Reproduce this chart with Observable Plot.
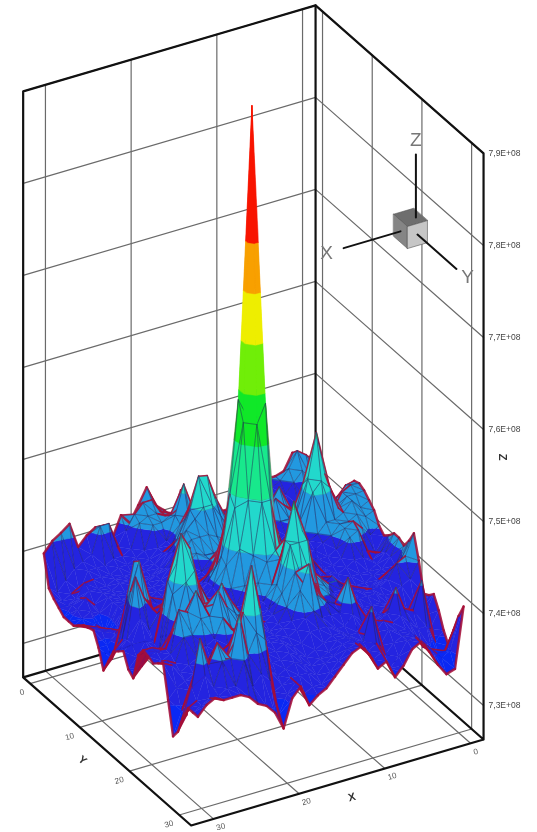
<!DOCTYPE html>
<html><head><meta charset="utf-8">
<style>html,body{margin:0;padding:0;background:#fff}svg{display:block;filter:blur(.55px)}</style>
<script src="https://cdn.jsdelivr.net/npm/d3@7"></script>
<script src="https://cdn.jsdelivr.net/npm/@observablehq/plot@0.6"></script>
</head><body><div id="chart"></div>
<script>
// Surface heights, in units of 1E+06, one array per X index (0..31); entries run over Y index 0..31
const zX00=[742,742,741,741,740,739,739.6,740.9,742.7,743.7,743.9,743.6,743,742.4,741.2,740.6,741.1,741.8,741.8,741.4,742.4,743.7,741.2,738.1,738.4,739,737.7,736,734.8,737,739,740.5];
const zX01=[742,743,741,739,738,738,738.5,739.5,742,743.5,744,743.5,742.5,742,740.5,739,739.5,740,740,739.5,740.5,741.5,739.5,737,737,737,736,735,733.5,735,735.5,734];
const zX02=[743,743.7,742,739,738,738,738,739,740.5,742.5,743.5,743.5,743.5,742.5,741.5,739.5,739,739,739,739,740,741,739,737,737,738,741.5,737,735,735,735,733.7];
const zX03=[741.3,742,741,739,738,738,738.5,739,739.5,740,742,742.5,742.5,742,742.5,742,739.5,738.5,738.5,738.5,739,739.5,738.5,737.5,737.5,738,738.5,737,735.5,736,736,735];
const zX04=[741,741,740,739,738.5,739,739.5,740,741,745,746,745,742,742,742,741.5,739.5,738.5,738,738,738.5,739,738.5,738,738,738.5,739,738,737,737,737,736.7];
const zX05=[741,740.5,739.5,739,738.5,739,740,741,742,746,750.8,746,742,741,740,739.5,739,738.5,738,738,738.5,739,739,738.5,738.5,739,741.5,739,738,738,738,738];
const zX06=[740,739.5,739,739,739,740,741,741,741.5,745,746,745,741,740.5,739.5,739,738.5,738,738,738.5,739,739,739,738.5,738,738.5,739,738.5,738,738,738,737.5];
const zX07=[739.5,739,739,739.5,740,742,743.5,742,741,741.5,741.5,741,740.5,740,739.5,739,739,738.5,738.5,739,739.5,739.5,739,738.5,738,738,738.5,739,738.5,737.5,736.5,736];
const zX08=[739,739,739,739.5,740.5,741,742,743,741,740,740,740,739.5,739.5,739.5,739.5,739.5,739.5,739,739.5,740,740,739.5,739,738.5,738.5,738.5,738,737,736.5,735.5,735];
const zX09=[739,739,739,739.5,740,740.5,741,741,740.5,739.5,739.5,739.5,739.5,739.5,740,740.5,741,740.5,740,740.5,741,741,740.5,740,740,740.5,739,738,741.5,738,737.5,737];
const zX10=[738.9,739,739,739,739.5,740,740.5,740.5,740,739.5,739.5,739.5,739.5,740,740,740.5,740.5,740,740,740.5,740.5,741,740.5,740,740,743.5,740,738.5,738,737.5,737,736.5];
const zX11=[738.7,739,739,739,739.5,740,740.5,740.5,740,739.5,739.5,739.5,740,740,740.5,741,741.5,741,740.5,741,741.5,742,741.5,741,740.5,740,739,738.5,738.5,738.5,738.5,738.3];
const zX12=[739.5,739.5,739.5,739.5,739.5,740,740.5,740.5,740,739.5,739.5,740,740,740.5,741,742,742,741.5,741,741.5,742.5,743,742,741,741,740,739,739,739,739.2,739.3,739.4];
const zX13=[740.8,740,740,739.5,739.5,740,741,741.5,741,740,739.5,740,740.5,742,744,746,745,743,741.5,743,747,747.5,747,743,742,740,739.5,739,739,739,739,739];
const zX14=[740.6,740,740,740,740.5,741,742,743,742,741,740.5,740.5,741,744,748,748,748.5,744,741.5,743,747,751,747,743,745.6,741,739.5,738.5,738,738,738,738];
const zX15=[742.5,742,741,741,741.5,742.5,744,745,743.5,741.5,740.5,741,742,743,746,750,758,760,750,745,744.5,747,747,744.5,743,740.5,739.5,738,737.5,737.5,737,737];
const zX16=[739.7,740,740.5,741,741,742,745,747.7,745,742,741,741.5,743,745,750,758,792.2,758,750,744,742,742.5,742,741,740,739.5,738.5,737.5,737,736.5,736,736];
const zX17=[740.9,741,741.5,742.5,745.6,742.5,745,747.9,745,742.5,741,741.5,743,745,750,760,758,750,744.5,742,740.5,740,740,739.5,739.5,739,738.5,738,737.5,737,736,735.5];
const zX18=[741.7,741.5,741.5,742,742.5,742,743,744.5,744,742.5,741,741,741,743,746,750,749,745,741.5,740,739.5,739.5,739.5,739,739,739,739,738.5,738,737,735.5,734.7];
const zX19=[743.9,743,742,741.5,740,740,741,742,743,742.5,741.5,740,740,741,742,743.5,743,741,739.5,739,739,739.5,740,739.5,739,739,738.5,738,737.5,737,737,737];
const zX20=[742.2,743,742,741.5,739.5,739.5,740,740.5,741,741,740.5,739.5,739.5,740,740.5,740.5,740,739,738.5,738.5,739,740,740.5,740,739.5,739,738.5,738,737,736.5,736,736];
const zX21=[740.6,742,741.5,739,738.5,738.5,738.5,739,739.5,739.5,739,738.5,738.5,739,739.5,739.5,739,738.5,739,739.5,740,741,741.5,741,740.5,740,739.5,739,738,736,734,733];
const zX22=[741.7,740.5,739,738.5,738,738,738,738.5,738.5,738.5,738.5,738,738,738.5,738.5,738.5,738.5,739,740,741,741,742.5,743,742,741,741,742,743,745,742,738,735];
const zX23=[739.5,739,738.5,738,737.5,737.5,737.5,738,738,738,738,737.5,738,738.5,739,739,739,739.5,741,742,741.5,743,745,743,741,741,743,745,749.8,743,739,736];
const zX24=[741.1,741.8,738.5,738,737.5,737.5,737.5,737.5,737.5,737.5,738,738,738.5,739,739.5,739.5,740,741,743,744,742,741.5,743,745,742.5,740,741,743,745,741,738,736.5];
const zX25=[741.2,741.8,738,737.5,737.5,737.5,737,737,737,737.5,738,738.5,739,739.5,740,740,741,743,746,748,746,743,743,742.5,740.5,739.5,739,739.5,742,745.5,741,737.5];
const zX26=[740.6,739,738,737.5,737,737,737,737,737,737.5,738,738.5,739,740,740,740,741,743,746,749.8,745,742.5,745,742.5,740,739,738.5,739,740.5,741,738.5,738];
const zX27=[739.6,738.5,738,737.5,737,737,737,737,737,737,737.5,738,739.5,741,740.5,740,740,741,744.5,743.5,741.5,742,743,741,739,738.5,739,741,742.5,741,738.5,738];
const zX28=[742.4,738,736,737.4,737,736,735.5,734,734.5,735,735.5,736,738,744.5,745,741.5,738.5,737.5,737,738,738.5,741,743.5,741,738.5,738,738,738.5,740.5,738.5,738,738];
const zX29=[741.7,737,736,736,736.5,737,736,735,735,735.5,736,736,737,740,742,744,740,738,737.5,738,738.5,739,739,738.5,738,737.5,737,739.5,743.5,740,738,738.5];
const zX30=[741.1,736,735.5,735.5,736,736,735.5,735,735.5,736,736,735,734,735.5,737,737.5,737.5,736.5,736,738,739,739,738.5,739,739,737,735,735,738.5,737.5,737.5,738];
const zX31=[740,736.7,736,735.5,735,735,735,735.5,736,736.2,736.4,735,733,734.5,736,736.5,737,735.5,735,738,739,738.8,738.5,739,739.5,736,732.5,733.5,735.5,737,737,737];
const surface=[zX00,zX01,zX02,zX03,zX04,zX05,zX06,zX07,zX08,zX09,zX10,zX11,zX12,zX13,zX14,zX15,zX16,zX17,zX18,zX19,zX20,zX21,zX22,zX23,zX24,zX25,zX26,zX27,zX28,zX29,zX30,zX31];

// Contour levels and the band colours between them (one more colour than levels)
const levels=[735.5,741,744.7,750.2,755.7,761.1,766.5,772,777.4];
const bandColors=["#0a28f4","#2424e0","#2299e0","#22d8cc","#18e88c","#10e828","#70ee08","#eeee00","#f8a000","#f81400"];

// Axis values
const xTicks=[0,10,20,30], yTicks=[0,10,20,30];
const zTicks=[730,740,750,760,770,780,790];
const zLabels=["7,3E+08","7,4E+08","7,5E+08","7,6E+08","7,7E+08","7,8E+08","7,9E+08"];
const box={x0:-1.52,x1:32.6,y0:-1.4,y1:32.4,z0:726.3,z1:790};

// Orthographic view of the data cube
const view={ox:309,oy:600.9,xdx:-8.57,xdy:2.52,ydx:4.97,ydy:4.38,zk:9.2};
const sx=(x,y)=>view.ox+view.xdx*x+view.ydx*y;
const sy=(x,y,z)=>view.oy+view.xdy*x+view.ydy*y-(z-box.z0)*view.zk;

// Surface polygons, painted far to near
const rows=[]; let id=0;
function push(pts,f,s,w,o){id++;for(const p of pts)rows.push({px:sx(p[0],p[1]),py:sy(p[0],p[1],p[2]),id,f,s,w,o});}
const V=(x,y)=>[x,y,surface[x][y]];
function clip(poly,lo,hi){
  const cut=(ps,keep,val)=>{const out=[];for(let i=0;i<ps.length;i++){const a=ps[i],b=ps[(i+1)%ps.length],ka=keep(a[2]),kb=keep(b[2]);
    if(ka)out.push(a);
    if(ka!==kb){const t=(val-a[2])/(b[2]-a[2]);out.push([a[0]+t*(b[0]-a[0]),a[1]+t*(b[1]-a[1]),val]);}}return out;};
  let r=poly;
  if(lo!=null)r=cut(r,z=>z>=lo,lo);
  if(r.length&&hi!=null)r=cut(r,z=>z<=hi,hi);
  return r;
}
const area=t=>{const [a,b,c]=t.map(p=>[sx(p[0],p[1]),sy(p[0],p[1],p[2])]);return (b[0]-a[0])*(c[1]-a[1])-(b[1]-a[1])*(c[0]-a[0]);};
const farTri=(x,y)=>[V(x,y),V(x+1,y),V(x,y+1)];
const nearTri=(x,y)=>[V(x+1,y),V(x+1,y+1),V(x,y+1)];
const refSign=Math.sign(area(farTri(0,0).map(p=>[p[0],p[1],box.z0])));
const back=t=>Math.sign(area(t))!==refSign;
const RED="#a80e34", UNDER="#a00c40", MESH="#25255a";
function tri(t){
  // The tall spike keeps its banded colours on every face
  if(back(t)&&Math.max(t[0][2],t[1][2],t[2][2])<755){push(t,UNDER,UNDER,.4,1);return;}
  for(let b=0;b<bandColors.length;b++){
    const p=clip(t,b?levels[b-1]:null,b<levels.length?levels[b]:null);
    if(p.length>2)push(p,bandColors[b],bandColors[b],.4,1);
  }
}
const N=surface.length-1;
for(let x=0;x<N;x++)for(let y=0;y<N;y++){
  const f=farTri(x,y),n=nearTri(x,y);
  tri(f);tri(n);
  const edge=(a,b,isRed,outer)=>{
    const top=Math.max(a[2],b[2]);
    if(top>770)return;
    if(isRed)push([a,b],"none",RED,outer?2.4:1.6,top>752?.3:.85);
    else push([a,b],"none",MESH,.6,top<741?.04:.45);
  };
  edge(V(x+1,y),V(x,y+1),back(f)!==back(n),false);
  edge(V(x,y),V(x,y+1),x===0||back(f)!==back(nearTri(x-1,y)),x===0);
  edge(V(x,y),V(x+1,y),y===0||back(f)!==back(nearTri(x,y-1)),y===0);
  if(x===N-1)edge(V(x+1,y),V(x+1,y+1),true,true);
  if(y===N-1)edge(V(x,y+1),V(x+1,y+1),true,true);
}

// Cube frame
const seg=(pts,k)=>pts.map(p=>({px:sx(p[0],p[1]),py:sy(p[0],p[1],p[2]),k}));
const {x0,x1,y0,y1,z0,z1}=box;
let k=0; const thin=[],thick=[];
for(const t of xTicks){thin.push(...seg([[t,y0,z0],[t,y0,z1]],k++));thin.push(...seg([[t,y0,z0],[t,y1,z0]],k++));}
for(const t of yTicks){thin.push(...seg([[x0,t,z0],[x0,t,z1]],k++));thin.push(...seg([[x0,t,z0],[x1,t,z0]],k++));}
for(const t of zTicks){thin.push(...seg([[x1,y0,t],[x0,y0,t],[x0,y1,t]],k++));}
[[[x1,y0,z0],[x1,y0,z1],[x0,y0,z1],[x0,y1,z1],[x0,y1,z0],[x1,y1,z0],[x1,y0,z0],[x0,y0,z0],[x0,y1,z0]],[[x0,y0,z0],[x0,y0,z1]]]
  .forEach(l=>thick.push(...seg(l,k++)));

// Orientation triad, drawn in the same view
const tA=[-12.14,0,765.7], tS=[2.33,2.8,2.4];
const T=(a,b,c)=>[tA[0]+a*tS[0],tA[1]+b*tS[1],tA[2]+c*tS[2]];
const faces=[
 {f:"#6e6e6e",p:[T(0,0,0),T(1,0,0),T(1,1,0),T(0,1,0)]},
 {f:"#858585",p:[T(1,0,0),T(1,1,0),T(1,1,-1),T(1,0,-1)]},
 {f:"#c6c6c6",p:[T(1,1,0),T(0,1,0),T(0,1,-1),T(1,1,-1)]}
].flatMap((c,i)=>seg(c.p,i).map(d=>({...d,f:c.f})));
const triadLines=[[T(1,.5,-.5),T(3.85,.5,-.5)],[T(.5,1,-.5),T(.5,3.8,-.5)],[T(.3,.6,0),T(.3,.6,2.85)]].flatMap((l,i)=>seg(l,i));
const tp=(p,label)=>({px:sx(p[0],p[1]),py:sy(p[0],p[1],p[2]),label});
const triadText=[tp(T(4.7,.5,-.5),"X"),tp(T(.5,4.6,-.4),"Y"),tp(T(.3,.6,3.5),"Z")];

const xLab=xTicks.map(t=>tp([t,y1,z0],String(t)));
const yLab=yTicks.map(t=>tp([x1,t,z0],String(t)));
const zLab=zTicks.map((t,i)=>tp([x0,y1,t],zLabels[i]));
const F="Liberation Sans";

const chart=Plot.plot({
  width:537,height:832,margin:0,
  x:{domain:[0,537],range:[0,537],axis:null},
  y:{domain:[0,832],range:[0,832],axis:null},
  color:{type:"identity"},
  style:{background:"#fff"},
  marks:[
    Plot.line(thin,{x:"px",y:"py",z:"k",stroke:"#6a6a6a",strokeWidth:1.2}),
    Plot.line(thick,{x:"px",y:"py",z:"k",stroke:"#111",strokeWidth:2.2}),
    Plot.line(rows,{x:"px",y:"py",z:"id",fill:"f",stroke:"s",strokeWidth:"w",strokeOpacity:"o",curve:"linear-closed",strokeLinejoin:"round"}),
    Plot.line(faces,{x:"px",y:"py",z:"k",fill:"f",stroke:"#555",strokeWidth:.6,curve:"linear-closed"}),
    Plot.line(triadLines,{x:"px",y:"py",z:"k",stroke:"#111",strokeWidth:2}),
    Plot.text(triadText,{x:"px",y:"py",text:"label",fontFamily:F,fontSize:19,fill:"#777"}),
    Plot.text(xLab,{x:"px",y:"py",text:"label",fontFamily:F,fontSize:8,fill:"#555",textAnchor:"start",dx:3,dy:9,rotate:-15}),
    Plot.text(yLab,{x:"px",y:"py",text:"label",fontFamily:F,fontSize:8,fill:"#555",textAnchor:"end",dx:-6,dy:8,rotate:-15}),
    Plot.text(zLab,{x:"px",y:"py",text:"label",fontFamily:F,fontSize:8.5,fill:"#444",textAnchor:"start",dx:5}),
    Plot.text([tp([15,y1,z0],"X")],{x:"px",y:"py",text:"label",fontFamily:F,fontWeight:"bold",fontSize:11,fill:"#333",dx:10,dy:16,rotate:-15}),
    Plot.text([tp([x1,15,z0],"Y")],{x:"px",y:"py",text:"label",fontFamily:F,fontWeight:"bold",fontSize:11,fill:"#333",dx:-22,dy:11,rotate:40}),
    Plot.text([tp([x0,y1,757],"Z")],{x:"px",y:"py",text:"label",fontFamily:F,fontWeight:"bold",fontSize:11,fill:"#333",dx:19,rotate:90})
  ]
});
document.getElementById("chart").append(chart);
</script></body></html>
